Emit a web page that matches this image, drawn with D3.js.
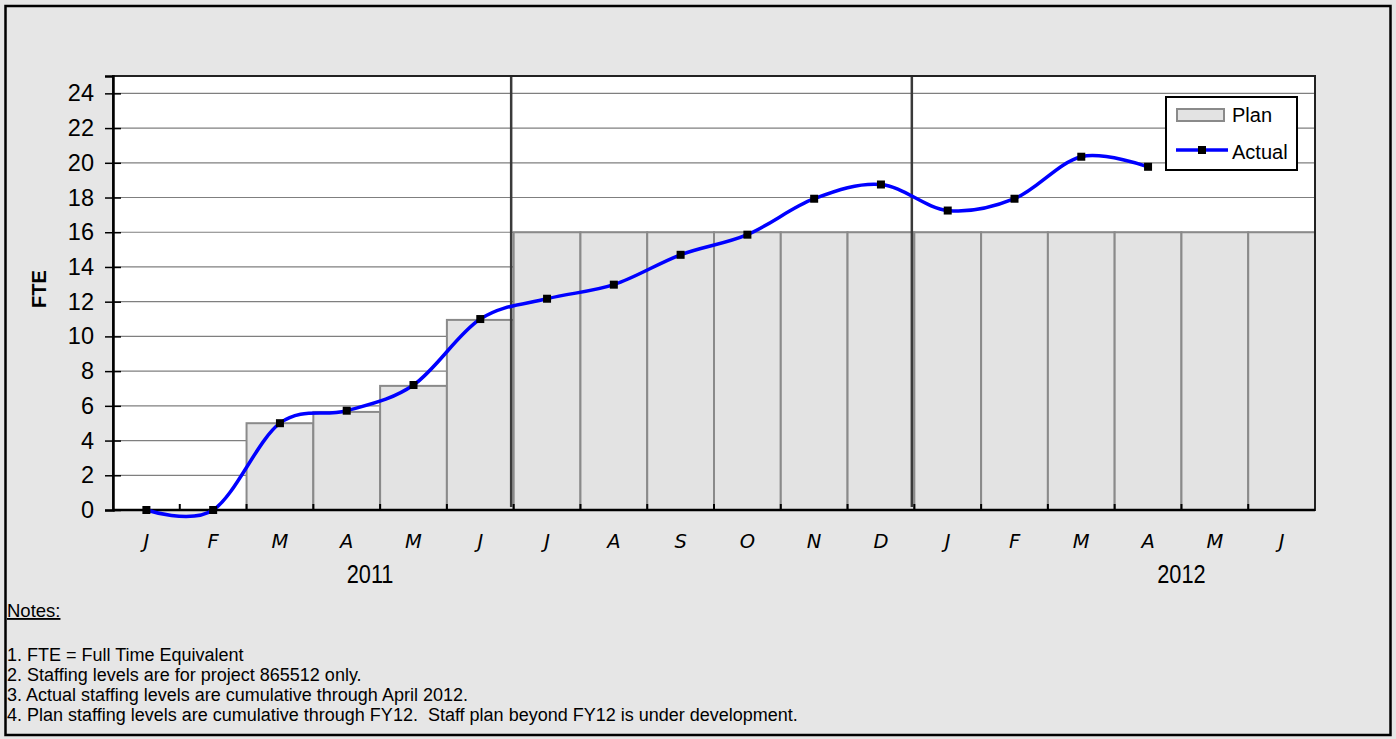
<!DOCTYPE html>
<html>
<head>
<meta charset="utf-8">
<script src="https://cdn.jsdelivr.net/npm/d3@7"></script>
<style>
  body { margin: 0; background: #e6e6e6; }
  svg { display: block; }
  text { white-space: pre; }
</style>
</head>
<body>
<script>
const months = ["J", "F", "M", "A", "M", "J", "J", "A", "S", "O", "N", "D", "J", "F", "M", "A", "M", "J"];
const plan = [0, 0, 5, 5.65, 7.15, 10.95, 16, 16, 16, 16, 16, 16, 16, 16, 16, 16, 16, 16];
const actual = [0, 0, 5, 5.72, 7.2, 11, 12.17, 12.98, 14.7, 15.86, 17.93, 18.75, 17.25, 17.93, 20.35, 19.77];
const yTicks = [0, 2, 4, 6, 8, 10, 12, 14, 16, 18, 20, 22, 24];
const years = [{ label: "2011", pos: 3.85 }, { label: "2012", pos: 16 }];
const fyBreaks = [6, 12];
const notes = [
  "1. FTE = Full Time Equivalent",
  "2. Staffing levels are for project 865512 only.",
  "3. Actual staffing levels are cumulative through April 2012.",
  "4. Plan staffing levels are cumulative through FY12.  Staff plan beyond FY12 is under development."
];

const W = 1396, H = 739;
const plotL = 113, plotR = 1315, plotT = 76, plotB = 510;
const sans = "'Liberation Sans', Arial, sans-serif";

const svg = d3.select("body").append("svg")
  .attr("width", W)
  .attr("height", H);

svg.append("rect")
  .attr("x", 5.5).attr("y", 6)
  .attr("width", 1385).attr("height", 729)
  .attr("fill", "#e6e6e6")
  .attr("stroke", "#000")
  .attr("stroke-width", 2.5);

const x = d3.scaleBand()
  .domain(d3.range(months.length))
  .range([plotL, plotR])
  .padding(0);

const y = d3.scaleLinear()
  .domain([0, 25])
  .range([plotB, plotT]);

// plot background
svg.append("rect")
  .attr("x", plotL).attr("y", plotT)
  .attr("width", plotR - plotL).attr("height", plotB - plotT)
  .attr("fill", "#fff");

// gridlines
svg.append("g")
  .selectAll("line")
  .data(yTicks.filter(d => d > 0))
  .join("line")
  .attr("x1", plotL).attr("x2", plotR)
  .attr("y1", d => y(d)).attr("y2", d => y(d))
  .attr("stroke", "#7f7f7f")
  .attr("stroke-width", 1.2);

// plan bars
svg.append("g")
  .selectAll("rect")
  .data(plan.map((v, i) => ({ v, i })).filter(d => d.v > 0))
  .join("rect")
  .attr("x", d => x(d.i))
  .attr("y", d => y(d.v))
  .attr("width", x.bandwidth())
  .attr("height", d => y(0) - y(d.v))
  .attr("fill", "#e3e3e3")
  .attr("stroke", "#8a8a8a")
  .attr("stroke-width", 2);

// fiscal year dividers
svg.append("g")
  .selectAll("line")
  .data(fyBreaks)
  .join("line")
  .attr("x1", d => x(d) - 2.5).attr("x2", d => x(d) - 2.5)
  .attr("y1", plotT).attr("y2", plotB - 3)
  .attr("stroke", "#3a3a3a")
  .attr("stroke-width", 2.5);

// plot frame
svg.append("rect")
  .attr("x", plotL).attr("y", plotT)
  .attr("width", plotR - plotL).attr("height", plotB - plotT)
  .attr("fill", "none")
  .attr("stroke", "#222")
  .attr("stroke-width", 2);

// y axis
const yAxis = svg.append("g")
  .attr("transform", `translate(${plotL},0)`)
  .call(d3.axisLeft(y).tickValues(yTicks).tickSize(8).tickPadding(11));
yAxis.select(".domain").attr("stroke", "#000").attr("stroke-width", 2.5);
yAxis.selectAll(".tick line").attr("stroke", "#000").attr("stroke-width", 1.5).attr("x2", 8).attr("x1", -8);
yAxis.selectAll("text")
  .attr("font-family", sans)
  .attr("font-size", 23.5)
  .attr("fill", "#000");

// x axis line and ticks at category boundaries
svg.append("line")
  .attr("x1", plotL).attr("x2", plotR)
  .attr("y1", plotB).attr("y2", plotB)
  .attr("stroke", "#000").attr("stroke-width", 2.5);

svg.append("g")
  .selectAll("line")
  .data(d3.range(1, months.length))
  .join("line")
  .attr("x1", d => x(d)).attr("x2", d => x(d))
  .attr("y1", plotB).attr("y2", plotB - 6)
  .attr("stroke", "#000").attr("stroke-width", 2);

svg.append("g")
  .selectAll("text")
  .data(months)
  .join("text")
  .attr("x", (d, i) => x(i) + x.bandwidth() / 2)
  .attr("y", 548)
  .attr("text-anchor", "middle")
  .attr("font-family", "'DejaVu Sans', sans-serif")
  .attr("font-style", "italic")
  .attr("font-size", 19.5)
  .text(d => d);

svg.append("g")
  .selectAll("text")
  .data(years)
  .join("text")
  .attr("transform", d => `translate(${x(0) + d.pos * x.step()},583) scale(0.87,1)`)
  .attr("text-anchor", "middle")
  .attr("font-family", sans)
  .attr("font-size", 25)
  .text(d => d.label);

svg.append("text")
  .attr("transform", "translate(46,289) rotate(-90)")
  .attr("text-anchor", "middle")
  .attr("font-family", sans)
  .attr("font-weight", "bold")
  .attr("font-size", 20)
  .text("FTE");

// actual line
const line = d3.line()
  .x((d, i) => x(i) + x.bandwidth() / 2)
  .y(d => y(d))
  .curve(d3.curveCardinal.tension(0));

svg.append("path")
  .datum(actual)
  .attr("d", line)
  .attr("fill", "none")
  .attr("stroke", "#0000ff")
  .attr("stroke-width", 3.5);

svg.append("g")
  .selectAll("rect")
  .data(actual)
  .join("rect")
  .attr("x", (d, i) => x(i) + x.bandwidth() / 2 - 4)
  .attr("y", d => y(d) - 4)
  .attr("width", 8).attr("height", 8)
  .attr("fill", "#000");

// legend
const legend = svg.append("g");
legend.append("rect")
  .attr("x", 1166).attr("y", 97)
  .attr("width", 131).attr("height", 73)
  .attr("fill", "#fff")
  .attr("stroke", "#000")
  .attr("stroke-width", 2);
legend.append("rect")
  .attr("x", 1177).attr("y", 109)
  .attr("width", 47).attr("height", 12)
  .attr("fill", "#e3e3e3")
  .attr("stroke", "#8a8a8a")
  .attr("stroke-width", 2);
legend.append("line")
  .attr("x1", 1176).attr("x2", 1228)
  .attr("y1", 150).attr("y2", 150)
  .attr("stroke", "#0000ff").attr("stroke-width", 3.5);
legend.append("rect")
  .attr("x", 1198).attr("y", 146)
  .attr("width", 8).attr("height", 8)
  .attr("fill", "#000");
legend.selectAll("text")
  .data(["Plan", "Actual"])
  .join("text")
  .attr("x", 1232)
  .attr("y", (d, i) => 122 + i * 36.5)
  .attr("font-family", sans)
  .attr("font-size", 20)
  .text(d => d);

// notes
svg.append("text")
  .attr("x", 7).attr("y", 617)
  .attr("font-family", sans)
  .attr("font-size", 18.5)
  .attr("text-decoration", "underline")
  .text("Notes:");

svg.append("g")
  .selectAll("text")
  .data(notes)
  .join("text")
  .attr("x", 7)
  .attr("y", (d, i) => 661 + i * 20)
  .attr("font-family", sans)
  .attr("font-size", 18)
  .text(d => d);
</script>
</body>
</html>
